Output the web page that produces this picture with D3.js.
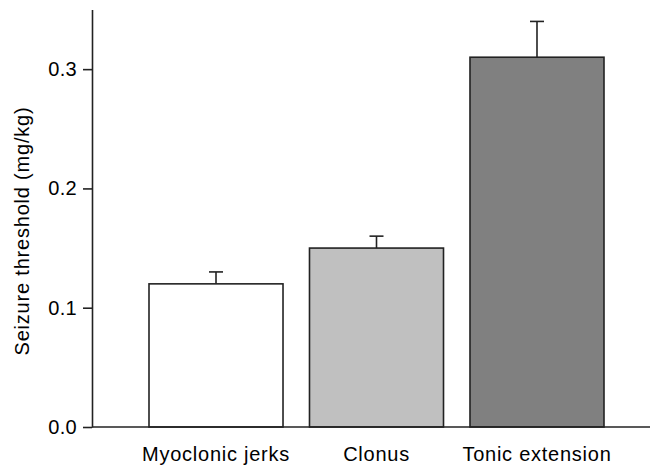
<!DOCTYPE html>
<html>
<head>
<meta charset="utf-8">
<script src="https://cdn.jsdelivr.net/npm/d3@7"></script>
<style>
  html, body { margin: 0; padding: 0; background: #fff; }
  svg { display: block; font-family: "Liberation Sans", Arial, Helvetica, sans-serif; }
</style>
</head>
<body>
<svg id="chart" width="650" height="472"></svg>
<script>
const categories = ["Myoclonic jerks", "Clonus", "Tonic extension"];
const means = [0.12, 0.15, 0.31];
const errors = [0.01, 0.01, 0.03];
const fills = ["#ffffff", "#c0c0c0", "#808080"];
const yTicks = [0.0, 0.1, 0.2, 0.3];
const yTitle = "Seizure threshold (mg/kg)";

const svg = d3.select("#chart");
const axisX = 92, baseY = 427, topY = 9.5;

const x = d3.scaleBand().domain(categories).range([149, 604]).paddingInner(0.165).paddingOuter(0);
const y = d3.scaleLinear().domain([0, 0.35]).range([baseY, topY]);

const ink = "#222";

// bars
svg.append("g").selectAll("rect").data(categories).join("rect")
  .attr("x", d => x(d))
  .attr("y", (d, i) => y(means[i]))
  .attr("width", x.bandwidth())
  .attr("height", (d, i) => y(0) - y(means[i]))
  .attr("fill", (d, i) => fills[i])
  .attr("stroke", ink)
  .attr("stroke-width", 1.6);

// error bars (upper only)
const eb = svg.append("g").attr("stroke", ink).attr("stroke-width", 1.6);
categories.forEach((c, i) => {
  const cx = x(c) + x.bandwidth() / 2;
  eb.append("line").attr("x1", cx).attr("x2", cx).attr("y1", y(means[i])).attr("y2", y(means[i] + errors[i]));
  eb.append("line").attr("x1", cx - 7).attr("x2", cx + 7).attr("y1", y(means[i] + errors[i])).attr("y2", y(means[i] + errors[i]));
});

// y axis
const gy = svg.append("g").attr("transform", `translate(${axisX},0)`)
  .call(d3.axisLeft(y).tickValues(yTicks).tickFormat(d3.format(".1f")).tickSize(9).tickSizeOuter(0).tickPadding(6));
gy.select(".domain").attr("stroke", ink).attr("stroke-width", 1.6);
gy.selectAll(".tick line").attr("stroke", ink).attr("stroke-width", 1.6);
gy.selectAll(".tick text").attr("font-size", 20).attr("fill", "#000").attr("letter-spacing", "0.3px");
gy.attr("font-family", null);

// x axis
const gx = svg.append("g").attr("transform", `translate(0,${baseY})`)
  .call(d3.axisBottom(x).tickSize(0).tickPadding(20));
gx.select(".domain").remove();
gx.attr("font-family", null);
gx.selectAll(".tick text").attr("font-size", 20).attr("fill", "#000").attr("letter-spacing", "0.75px");
svg.append("line").attr("x1", axisX).attr("x2", 650).attr("y1", baseY).attr("y2", baseY)
  .attr("stroke", ink).attr("stroke-width", 1.6);

// y title
svg.append("text")
  .attr("transform", `translate(29,231) rotate(-90)`)
  .attr("text-anchor", "middle")
  .attr("font-size", 20)
  .attr("letter-spacing", "0.8px")
  .attr("fill", "#000")
  .text(yTitle);
</script>
</body>
</html>
